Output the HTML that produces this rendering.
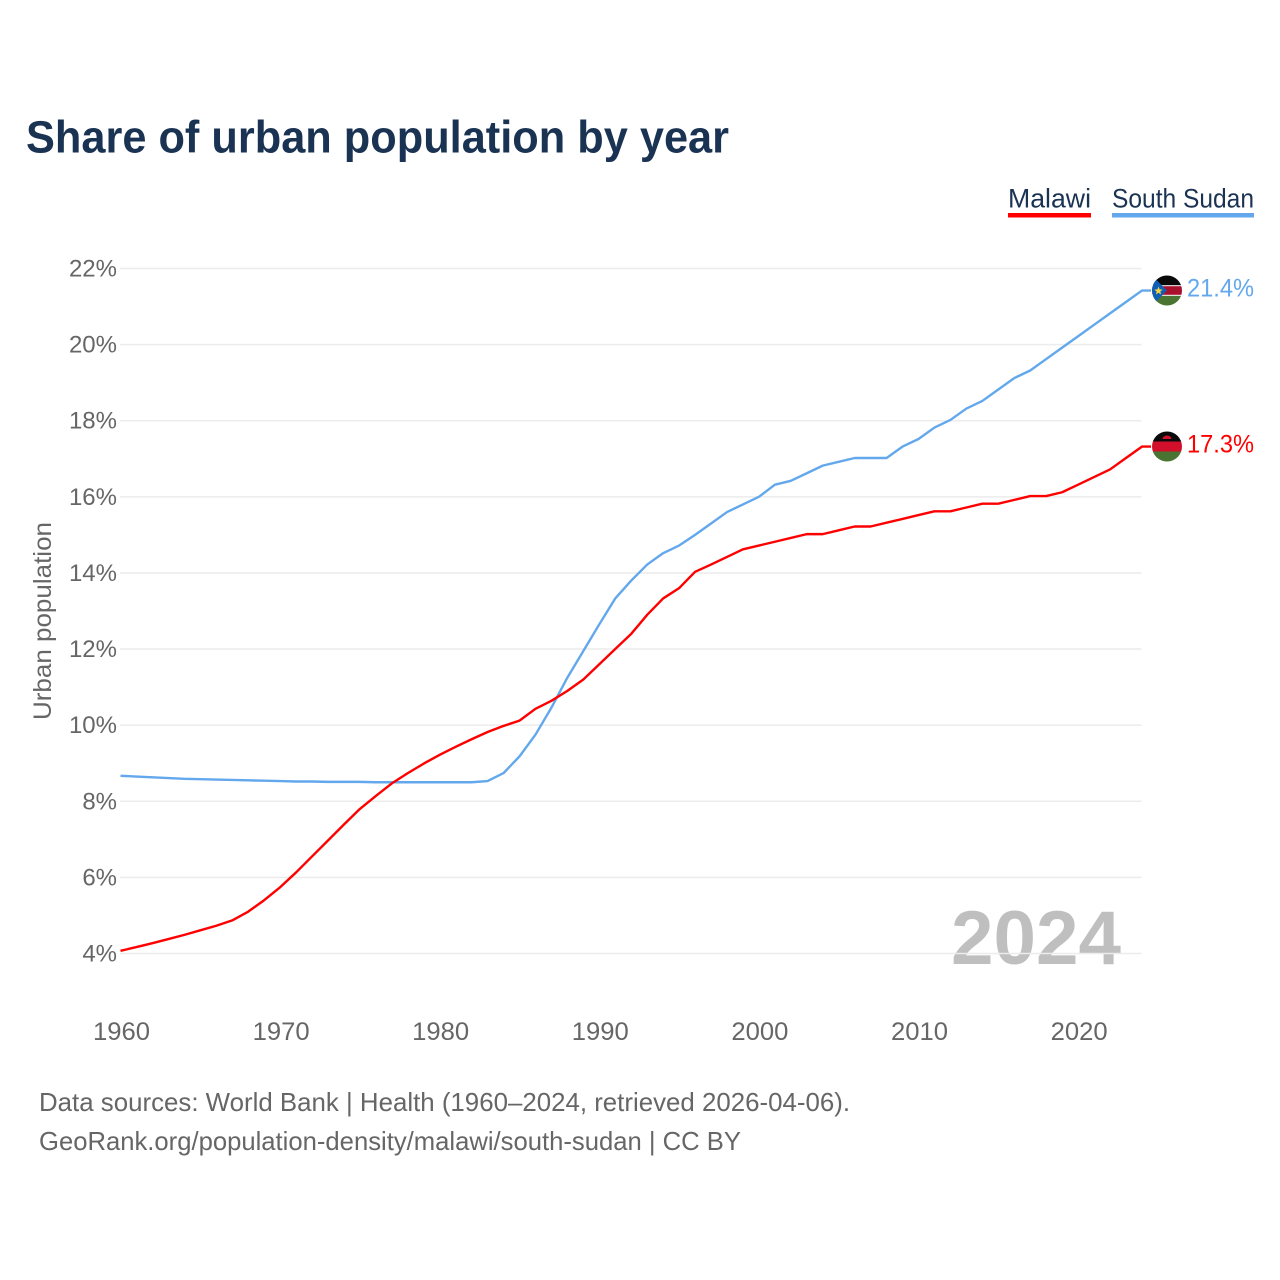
<!DOCTYPE html>
<html lang="en">
<head>
<meta charset="utf-8">
<title>Share of urban population by year</title>
<style>
  html, body { margin: 0; padding: 0; background: #fff; }
  svg { display: block; font-family: "Liberation Sans", "DejaVu Sans", sans-serif; }
</style>
</head>
<body>
<svg id="chart" xmlns="http://www.w3.org/2000/svg" width="1280" height="1280" viewBox="0 0 1280 1280">
  <defs>
    <clipPath id="flag-clip-ss"><circle cx="1167" cy="290.5" r="15"/></clipPath>
    <clipPath id="flag-clip-mw"><circle cx="1167" cy="446.5" r="15"/></clipPath>
  </defs>
  <rect width="1280" height="1280" fill="#ffffff"/>
  <text x="26" y="152.5" font-size="45" font-weight="700" fill="#1a3353" textLength="703" lengthAdjust="spacingAndGlyphs">Share of urban population by year</text>

  <g>
    <text x="1008" y="207.5" font-size="27" fill="#1a3353" textLength="83" lengthAdjust="spacingAndGlyphs">Malawi</text>
    <rect x="1008" y="213" width="83" height="4.5" fill="#ff0000"/>
  </g>
  <g>
    <text x="1112" y="207.5" font-size="27" fill="#1a3353" textLength="142" lengthAdjust="spacingAndGlyphs">South Sudan</text>
    <rect x="1112" y="213" width="142" height="4.5" fill="#63a8ec"/>
  </g>

  <text x="1121" y="964" text-anchor="end" font-size="76" font-weight="700" fill="#000000" fill-opacity="0.25" textLength="170" lengthAdjust="spacingAndGlyphs">2024</text>

  <g id="grid"></g>
  <g id="yticks"></g>
  <g id="xticks"></g>

  <text transform="translate(51 621) rotate(-90)" text-anchor="middle" font-size="25" fill="#666666" textLength="198" lengthAdjust="spacingAndGlyphs">Urban population</text>

  <g id="series"></g>

  <g clip-path="url(#flag-clip-ss)">
    <rect x="1152" y="275.5" width="30" height="10" fill="#0a0a0a"/>
    <rect x="1152" y="285.2" width="30" height="10.6" fill="#ffffff"/>
    <rect x="1152" y="286.2" width="30" height="8.6" fill="#a8102e"/>
    <rect x="1152" y="295.8" width="30" height="10" fill="#4a7431"/>
    <polygon points="1152,275.5 1167,290.5 1152,305.5" fill="#0f5fb5"/>
    <polygon points="1158.5,286.5 1159.6,289.4 1162.7,289.6 1160.3,291.5 1161.1,294.5 1158.5,292.8 1155.9,294.5 1156.7,291.5 1154.3,289.6 1157.4,289.4" fill="#f5d442"/>
  </g>
  <g clip-path="url(#flag-clip-mw)">
    <rect x="1152" y="431.5" width="30" height="10" fill="#0a0a0a"/>
    <rect x="1152" y="441.5" width="30" height="10" fill="#d2102c"/>
    <rect x="1152" y="451.5" width="30" height="10" fill="#4a7431"/>
    <path d="M1162.5 439 a4.5 3.5 0 0 1 9 0 z" fill="#d2102c"/>
  </g>

  <text x="1187" y="296.5" font-size="25" fill="#63a8ec" textLength="67" lengthAdjust="spacingAndGlyphs">21.4%</text>
  <text x="1187" y="452.5" font-size="25" fill="#ff0000" textLength="67" lengthAdjust="spacingAndGlyphs">17.3%</text>

  <text x="39" y="1111" font-size="26" fill="#666666" textLength="811" lengthAdjust="spacingAndGlyphs">Data sources: World Bank | Health (1960–2024, retrieved 2026-04-06).</text>
  <text x="39" y="1150" font-size="26" fill="#666666" textLength="702" lengthAdjust="spacingAndGlyphs">GeoRank.org/population-density/malawi/south-sudan | CC BY</text>
</svg>
<script>
const firstYear = 1960;
const yTickValues = [4, 6, 8, 10, 12, 14, 16, 18, 20, 22];
const xTickValues = [1960, 1970, 1980, 1990, 2000, 2010, 2020];
const malawiValues = [
  4.07, 4.17, 4.27, 4.38, 4.49, 4.61, 4.73, 4.87, 5.10, 5.40,
  5.74, 6.13, 6.55, 6.97, 7.39, 7.80, 8.14, 8.47, 8.74, 8.99,
  9.22, 9.43, 9.63, 9.82, 9.98, 10.12, 10.43, 10.64, 10.90, 11.20,
  11.60, 12.00, 12.40, 12.90, 13.33, 13.60, 14.03, 14.22, 14.42, 14.62,
  14.72, 14.82, 14.92, 15.02, 15.02, 15.12, 15.22, 15.22, 15.32, 15.42,
  15.52, 15.62, 15.62, 15.72, 15.82, 15.82, 15.92, 16.02, 16.02, 16.12,
  16.32, 16.52, 16.72, 17.02, 17.32
];
const southSudanValues = [
  8.67, 8.65, 8.63, 8.61, 8.59, 8.58, 8.57, 8.56, 8.55, 8.54,
  8.53, 8.52, 8.52, 8.51, 8.51, 8.51, 8.50, 8.50, 8.50, 8.50,
  8.50, 8.50, 8.50, 8.53, 8.74, 9.18, 9.75, 10.46, 11.25, 11.95,
  12.65, 13.33, 13.80, 14.22, 14.52, 14.72, 15.00, 15.30, 15.60, 15.80,
  16.00, 16.32, 16.42, 16.62, 16.82, 16.92, 17.02, 17.02, 17.02, 17.32,
  17.52, 17.82, 18.02, 18.32, 18.52, 18.82, 19.12, 19.32, 19.62, 19.92,
  20.22, 20.52, 20.82, 21.12, 21.42
];

const SVG_NS = 'http://www.w3.org/2000/svg';
function xScale(year) { return 120.5 + (year - 1960) * 15.96; }
function yScale(v) { return 953.5 - (v - 4) * 38.056; }

const grid = document.getElementById('grid');
const yticks = document.getElementById('yticks');
const xticks = document.getElementById('xticks');
const series = document.getElementById('series');

yTickValues.forEach(function (v) {
  const line = document.createElementNS(SVG_NS, 'line');
  
  
  line.setAttribute('x1', 120);
  line.setAttribute('x2', 1141.5);
  line.setAttribute('y1', yScale(v));
  line.setAttribute('y2', yScale(v));
  line.setAttribute('stroke', '#ececec');
  line.setAttribute('stroke-width', 1.5);
  grid.appendChild(line);

  const label = document.createElementNS(SVG_NS, 'text');
  
  
  label.setAttribute('x', 117);
  label.setAttribute('y', yScale(v) + 8);
  label.setAttribute('text-anchor', 'end');
  label.setAttribute('font-size', 24);
  label.setAttribute('fill', '#666666');
  label.textContent = v + '%';
  yticks.appendChild(label);
});

xTickValues.forEach(function (year) {
  const label = document.createElementNS(SVG_NS, 'text');
  
  
  label.setAttribute('x', xScale(year) + 1);
  label.setAttribute('y', 1040);
  label.setAttribute('text-anchor', 'middle');
  label.setAttribute('font-size', 25);
  label.setAttribute('fill', '#666666');
  label.setAttribute('textLength', 57);
  label.setAttribute('lengthAdjust', 'spacingAndGlyphs');
  label.textContent = year;
  xticks.appendChild(label);
});

function pathFor(values) {
  const pts = values.map(function (v, i) {
    return xScale(firstYear + i).toFixed(2) + ',' + yScale(v).toFixed(2);
  });
  const last = values[values.length - 1];
  pts.push('1151,' + yScale(last).toFixed(2));
  return 'M' + pts.join('L');
}

const southLine = document.createElementNS(SVG_NS, 'path');


southLine.setAttribute('d', pathFor(southSudanValues));
southLine.setAttribute('fill', 'none');
southLine.setAttribute('stroke', '#63a8ec');
southLine.setAttribute('stroke-width', 2.4);
southLine.setAttribute('stroke-linejoin', 'round');
series.appendChild(southLine);

const malawiLine = document.createElementNS(SVG_NS, 'path');


malawiLine.setAttribute('d', pathFor(malawiValues));
malawiLine.setAttribute('fill', 'none');
malawiLine.setAttribute('stroke', '#ff0000');
malawiLine.setAttribute('stroke-width', 2.4);
malawiLine.setAttribute('stroke-linejoin', 'round');
series.appendChild(malawiLine);
</script>
</body>
</html>
